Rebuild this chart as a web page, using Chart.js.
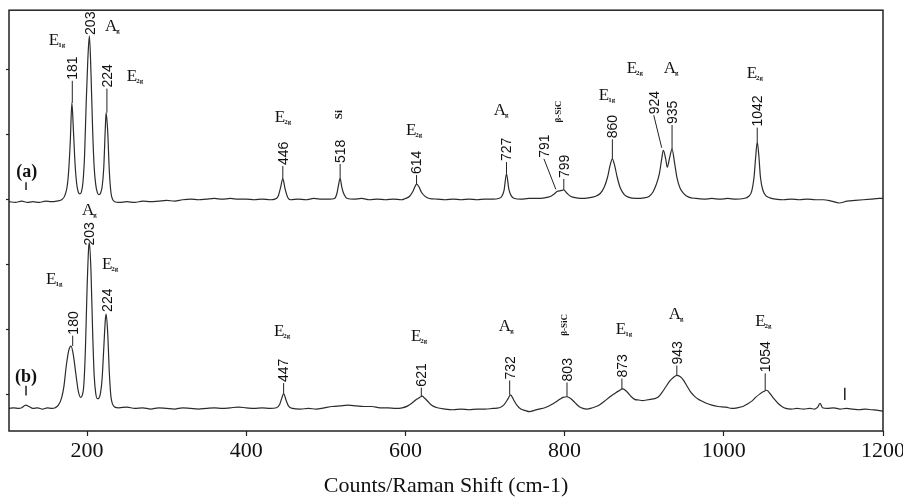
<!DOCTYPE html>
<html>
<head>
<meta charset="UTF-8">
<title>Raman spectra</title>
<script src="https://cdn.jsdelivr.net/npm/chart.js"></script>
<style>
    body { margin: 0; background: #fff; }
    #wrap { width: 903px; height: 497px; }
</style>
</head>
<body>
<div id="wrap"><canvas id="raman" width="903" height="497"></canvas></div>
<script>
// spectrum (a)
const shiftA = [102,110,118,125,132,140,148,155,162,168,
    172,175,177,179,181,183,185,187,189,191,
    193,195,197,199,201,203,205,207,209,211,
    213,215,217,219,221,223,224,226,228,230,
    232,235,240,250,260,270,280,290,300,310,
    320,330,340,350,360,370,380,390,400,410,
    420,430,436,440,443,446,449,452,456,465,
    475,485,495,505,511,514,516,518,520,523,
    527,535,545,555,565,575,585,595,600,605,
    609,612,614,617,620,624,630,640,650,660,
    670,680,690,700,710,717,721,724,727,730,
    733,737,745,755,765,775,782,787,791,795,
    799,803,808,815,822,830,838,845,850,854,
    857,860,863,866,870,875,880,890,900,906,
    911,915,919,922,924,927,929,932,935,938,
    941,945,950,956,965,975,985,995,1005,1015,
    1025,1031,1035,1038,1040,1042,1044,1046,1049,1053,
    1058,1065,1075,1085,1095,1105,1115,1125,1135,1145,
    1155,1165,1175,1185,1195,1200];
const countsA = [39.7,39.6,39.8,39.6,39.7,39.6,39.8,39.7,39.8,40.0,
    40.6,42.0,44.5,49.0,54.9,50.5,45.5,42.5,41.2,40.9,
    41.2,42.8,47.0,55.0,61.5,65.2,59.5,51.0,45.0,42.3,
    41.1,40.8,41.0,42.0,44.8,51.0,53.4,50.5,44.5,41.2,
    40.1,39.7,39.6,39.7,39.6,39.8,39.7,39.8,39.9,39.8,
    40.0,40.1,40.0,40.1,40.2,40.1,40.2,40.1,40.1,40.0,
    40.1,40.0,40.1,40.5,41.8,43.2,41.6,40.4,40.0,40.1,
    40.0,40.2,40.1,40.1,40.2,41.0,42.3,43.3,42.0,40.8,
    40.2,40.1,40.2,40.0,40.1,40.0,40.1,40.0,40.2,40.5,
    41.2,42.0,42.4,42.0,41.2,40.6,40.2,40.1,40.0,40.1,
    40.0,40.1,40.0,40.1,40.1,40.2,40.5,41.5,44.0,41.6,
    40.6,40.2,40.1,40.2,40.2,40.3,40.5,40.9,41.3,41.4,
    41.5,41.0,40.5,40.3,40.2,40.3,40.5,41.0,42.0,43.5,
    45.2,46.3,45.2,43.5,41.8,40.8,40.4,40.2,40.3,40.5,
    41.2,42.3,44.0,46.3,47.6,46.3,45.0,46.5,47.8,45.8,
    43.5,41.8,40.9,40.4,40.2,40.1,40.2,40.1,40.2,40.1,
    40.2,40.5,41.3,43.5,46.5,48.9,46.8,43.5,41.5,40.6,
    40.3,40.1,40.0,40.1,40.0,40.1,40.0,40.0,39.8,39.5,
    39.8,39.9,40.0,40.1,40.2,40.2];

// spectrum (b)
const shiftB = [102,108,114,118,123,127,132,138,144,150,
    156,160,164,168,171,174,177,180,183,186,
    189,192,194,196,198,200,202,203,205,207,
    209,211,213,215,217,219,221,223,224,226,
    228,230,232,235,240,250,260,270,280,290,
    300,310,320,330,340,350,360,370,380,390,
    400,410,420,430,438,442,445,447,450,453,
    458,468,478,488,498,508,518,528,538,548,
    558,568,578,588,596,603,609,614,618,621,
    624,628,633,640,650,660,670,680,690,700,
    710,718,724,729,732,736,740,745,750,756,
    762,768,775,782,788,794,798,803,808,813,
    818,823,828,835,842,850,857,863,868,873,
    878,883,888,893,898,903,908,913,918,922,
    927,932,937,941,945,949,953,958,963,968,
    973,978,985,993,1003,1010,1017,1024,1030,1036,
    1040,1045,1050,1054,1058,1063,1068,1073,1078,1085,
    1092,1100,1108,1114,1118,1121,1124,1130,1138,1146,
    1154,1162,1170,1178,1186,1194,1200];
const countsB = [7.9,8.0,7.9,8.0,8.4,8.2,7.9,8.0,7.8,8.0,
    7.9,8.0,8.4,9.5,11.3,14.5,16.8,17.5,16.0,13.2,
    10.6,9.6,9.9,11.5,17.0,26.0,32.5,33.4,29.0,20.0,
    13.0,10.2,9.4,9.5,10.3,12.5,17.0,21.5,22.4,19.5,
    13.5,9.8,8.6,8.1,8.0,8.1,7.9,8.0,7.8,8.0,
    7.9,7.8,8.0,7.9,7.8,7.9,8.0,7.9,8.0,8.1,
    8.0,7.9,8.0,7.9,8.0,8.5,9.6,10.2,9.2,8.3,
    7.9,7.8,7.9,7.8,8.0,8.2,8.3,8.4,8.3,8.2,
    8.2,8.0,8.0,7.9,8.0,8.3,8.8,9.3,9.6,9.8,
    9.5,9.0,8.4,8.0,7.8,7.7,7.8,7.7,7.8,7.8,
    7.9,8.0,8.5,9.4,10.0,9.2,8.4,7.8,7.6,7.4,
    7.6,7.8,8.0,8.4,8.8,9.3,9.6,9.7,9.4,8.8,
    8.2,7.9,7.8,8.0,8.3,9.0,9.7,10.2,10.6,10.9,
    10.5,9.8,9.3,9.2,9.1,9.2,9.3,9.4,9.7,10.3,
    11.2,12.1,12.7,13.0,12.8,12.3,11.5,10.5,9.8,9.3,
    9.0,8.7,8.4,8.2,8.1,7.9,8.0,8.2,8.6,9.1,
    9.6,10.1,10.5,10.7,10.2,9.4,8.7,8.2,7.9,7.8,
    7.9,7.8,7.9,7.8,8.1,8.7,8.0,7.9,8.0,7.8,
    7.9,7.8,7.7,7.8,7.7,7.6,7.5];

// axis
const xTicks = [200, 400, 600, 800, 1000, 1200];
const xTitle = 'Counts/Raman Shift (cm-1)';

// peak position labels (rotated numbers)
const peakLabels = [
    { x: 181.5, text: '181', base: 58.3, from: 54.9 },
    { x: 203.5, text: '203', base: 65.2 },
    { x: 225, text: '224', base: 57.1, from: 53.4 },
    { x: 446, text: '446', base: 45.2, from: 43.2 },
    { x: 518, text: '518', base: 45.5, from: 43.3 },
    { x: 614, text: '614', base: 43.8, from: 42.4 },
    { x: 727, text: '727', base: 45.8, from: 44.0 },
    { x: 774, text: '791', base: 46.3, leader: [789, 41.6] },
    { x: 799, text: '799', base: 43.2, from: 41.5 },
    { x: 860, text: '860', base: 49.3, from: 46.3 },
    { x: 912, text: '924', base: 53.0, leader: [922, 48.0] },
    { x: 935, text: '935', base: 51.5, from: 47.8 },
    { x: 1042, text: '1042', base: 51.1, from: 48.9 },
    { x: 182, text: '180', base: 19.1, from: 17.5 },
    { x: 202.5, text: '203', base: 32.8 },
    { x: 225, text: '224', base: 22.6 },
    { x: 447, text: '447', base: 11.8, from: 10.2 },
    { x: 620, text: '621', base: 11.1, from: 9.8 },
    { x: 731, text: '732', base: 12.2, from: 10.0 },
    { x: 803, text: '803', base: 11.9, from: 9.7 },
    { x: 872, text: '873', base: 12.5, from: 10.9 },
    { x: 941, text: '943', base: 14.5, from: 13.0 },
    { x: 1052, text: '1054', base: 13.3, from: 10.7 }
];

// mode labels
const modeLabels = [
    { x: 152, y: 63.8, main: 'E', sub: '1g' },
    { x: 222.6, y: 66.0, main: 'A', sub: 'g' },
    { x: 250, y: 58.3, main: 'E', sub: '2g' },
    { x: 193.7, y: 37.7, main: 'A', sub: 'g' },
    { x: 436, y: 51.9, main: 'E', sub: '2g' },
    { x: 516.5, y: 52.4, vtext: 'Si' },
    { x: 600.6, y: 49.9, main: 'E', sub: '2g' },
    { x: 711, y: 53.1, main: 'A', sub: 'g' },
    { x: 792.7, y: 51.9, vtext: 'β-SiC' },
    { x: 843, y: 55.3, main: 'E', sub: '1g' },
    { x: 878, y: 59.5, main: 'E', sub: '2g' },
    { x: 924.6, y: 59.5, main: 'A', sub: 'g' },
    { x: 1028.8, y: 58.8, main: 'E', sub: '2g' },
    { x: 148.5, y: 27.0, main: 'E', sub: '1g' },
    { x: 218.8, y: 29.3, main: 'E', sub: '2g' },
    { x: 434.8, y: 19.1, main: 'E', sub: '2g' },
    { x: 606.9, y: 18.3, main: 'E', sub: '2g' },
    { x: 717.4, y: 19.8, main: 'A', sub: 'g' },
    { x: 800.3, y: 19.1, vtext: 'β-SiC' },
    { x: 864.3, y: 19.4, main: 'E', sub: '1g' },
    { x: 930.9, y: 21.7, main: 'A', sub: 'g' },
    { x: 1039.4, y: 20.6, main: 'E', sub: '2g' }
];

const traceTags = [
    { x: 111, y: 43.5, text: '(a)' },
    { x: 109.5, y: 11.9, text: '(b)' }
];
const markers = [
    { x: 123.4, y1: 41.5, y2: 42.7 },
    { x: 123.4, y1: 9.9, y2: 11.4 },
    { x: 1152, y1: 9.2, y2: 11.1 }
];

const toPoints = (xs, ys) => xs.map((v, i) => ({ x: v, y: ys[i] }));

const annotate = {
    id: 'annotate',
    afterDatasetsDraw(chart) {
        const { ctx, chartArea: a, scales: { x, y } } = chart;
        ctx.save();
        ctx.strokeStyle = '#222';
        ctx.lineWidth = 1.5;
        ctx.strokeRect(a.left, a.top, a.right - a.left, a.bottom - a.top);

        ctx.fillStyle = '#111';
        ctx.strokeStyle = '#222';
        ctx.lineWidth = 1;
        peakLabels.forEach(p => {
            const px = x.getPixelForValue(p.x);
            const py = y.getPixelForValue(p.base);
            ctx.beginPath();
            if (p.from !== undefined) {
                ctx.moveTo(px, y.getPixelForValue(p.from));
                ctx.lineTo(px, py);
            }
            if (p.leader) {
                ctx.moveTo(px, py);
                ctx.lineTo(x.getPixelForValue(p.leader[0]), y.getPixelForValue(p.leader[1]));
            }
            ctx.stroke();
            ctx.save();
            ctx.translate(px, py);
            ctx.rotate(-Math.PI / 2);
            ctx.font = '14px "Liberation Sans", Arial, sans-serif';
            ctx.textAlign = 'left';
            ctx.textBaseline = 'middle';
            ctx.fillText(p.text, 1, 1);
            ctx.restore();
        });

        modeLabels.forEach(m => {
            const px = x.getPixelForValue(m.x);
            const py = y.getPixelForValue(m.y);
            if (m.vtext) {
                ctx.save();
                ctx.translate(px, py);
                ctx.rotate(-Math.PI / 2);
                ctx.font = 'bold ' + (m.vtext === 'Si' ? '11px' : '9px') + ' "Liberation Serif", serif';
                ctx.textAlign = 'left';
                ctx.textBaseline = 'middle';
                ctx.fillText(m.vtext, 0, 0);
                ctx.restore();
                return;
            }
            ctx.textAlign = 'left';
            ctx.textBaseline = 'alphabetic';
            ctx.font = '17px "Liberation Serif", serif';
            ctx.fillText(m.main, px, py);
            const w = ctx.measureText(m.main).width;
            ctx.font = 'bold 7px "Liberation Serif", serif';
            ctx.fillText(m.sub, px + w - 1, py + 2);
        });

        ctx.font = 'bold 18px "Liberation Serif", serif';
        traceTags.forEach(t => {
            ctx.fillText(t.text, x.getPixelForValue(t.x), y.getPixelForValue(t.y));
        });

        ctx.lineWidth = 1.5;
        markers.forEach(m => {
            const px = x.getPixelForValue(m.x);
            ctx.beginPath();
            ctx.moveTo(px, y.getPixelForValue(m.y1));
            ctx.lineTo(px, y.getPixelForValue(m.y2));
            ctx.stroke();
        });
        ctx.restore();
    }
};

const lineStyle = {
    borderColor: '#2b2b2b',
    borderWidth: 1.2,
    pointRadius: 0,
    fill: false,
    cubicInterpolationMode: 'monotone'
};

new Chart(document.getElementById('raman'), {
    type: 'line',
    data: {
        datasets: [
            Object.assign({ label: '(a)', data: toPoints(shiftA, countsA) }, lineStyle),
            Object.assign({ label: '(b)', data: toPoints(shiftB, countsB) }, lineStyle)
        ]
    },
    options: {
        responsive: false,
        devicePixelRatio: 1,
        animation: false,
        layout: { padding: { top: 7, right: 20, left: 0, bottom: 0 } },
        plugins: { legend: { display: false }, tooltip: { enabled: false } },
        scales: {
            x: {
                type: 'linear',
                min: 102,
                max: 1200,
                afterBuildTicks: s => { s.ticks = xTicks.map(v => ({ value: v })); },
                afterFit: s => { s.height = 66; s.paddingLeft = 0; s.paddingRight = 0; },
                border: { display: false },
                grid: { drawOnChartArea: false, drawTicks: true, tickLength: 5, color: '#222', tickWidth: 1.2 },
                ticks: {
                    autoSkip: false,
                    maxRotation: 0,
                    padding: 2,
                    color: '#111',
                    callback: v => String(v),
                    font: { family: '"Liberation Serif", serif', size: 22 }
                },
                title: {
                    display: true,
                    text: xTitle,
                    color: '#111',
                    padding: 0,
                    font: { family: '"Liberation Serif", serif', size: 22, lineHeight: 1 }
                }
            },
            y: {
                min: 4.43,
                max: 69.16,
                ticks: { stepSize: 10, includeBounds: false, callback: () => '' },
                afterFit: s => { s.width = 9; },
                border: { display: false },
                grid: { drawOnChartArea: false, drawTicks: true, tickLength: 3, color: '#222', tickWidth: 1.2 }
            }
        }
    },
    plugins: [annotate]
});
</script>
</body>
</html>
